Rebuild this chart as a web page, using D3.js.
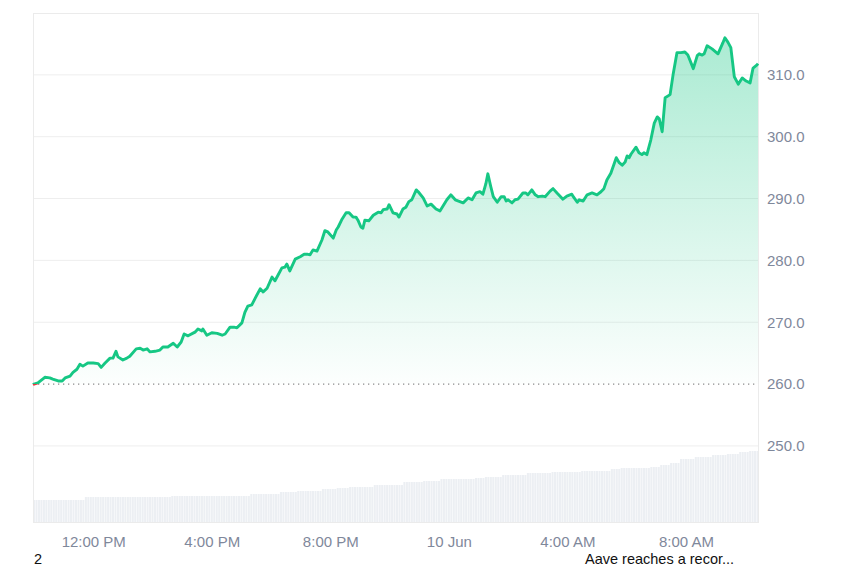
<!DOCTYPE html>
<html>
<head>
<meta charset="utf-8">
<script src="https://cdn.jsdelivr.net/npm/d3@7"></script>
<style>
  html, body { margin: 0; padding: 0; background: #ffffff; }
  svg { display: block; font-family: "Liberation Sans", Arial, Helvetica, sans-serif; }
</style>
</head>
<body>
<svg id="chart" width="850" height="567"></svg>
<script>
// ---- Data ----
// Minutes after 9 Jun 09:58 and the price at that moment
const minutes = [0,2,10,24,34,40,51,59,65,75,81,89,95,101,111,122,132,138,146,156,162,168,172,182,190,196,209,217,223,231,237,247,257,263,273,284,292,300,306,314,328,334,342,344,352,362,373,383,389,399,407,413,423,429,435,443,450,460,466,474,484,490,496,504,510,514,520,531,541,549,555,561,567,575,585,591,597,608,614,618,626,634,640,648,654,658,664,668,672,680,689,699,705,709,717,721,729,737,741,749,755,761,767,776,780,790,798,806,816,824,838,846,855,871,881,889,897,905,911,917,921,927,932,940,948,954,958,962,970,976,982,992,998,1002,1010,1017,1023,1031,1037,1047,1053,1061,1073,1081,1091,1094,1102,1106,1114,1122,1132,1142,1150,1156,1162,1170,1181,1187,1193,1199,1203,1207,1211,1221,1227,1233,1237,1243,1251,1258,1264,1268,1274,1280,1290,1296,1304,1312,1320,1326,1337,1345,1349,1355,1359,1365,1375,1387,1397,1401,1407,1413,1420,1428,1436,1444,1452,1458,1466,1468];
const prices = [259.9,260.0,260.2,261.1,261.0,260.8,260.5,260.5,261.0,261.3,261.9,262.4,263.2,262.9,263.4,263.4,263.3,262.7,263.4,264.2,264.2,265.3,264.4,263.9,264.2,264.5,265.7,265.8,265.5,265.7,265.2,265.3,265.5,266.0,266.0,266.6,266.0,266.8,268.1,267.8,268.4,268.9,268.6,268.9,267.9,268.3,268.2,267.9,268.1,269.2,269.2,269.1,269.9,271.6,272.6,272.8,273.9,275.4,274.9,275.5,277.3,276.7,277.6,278.8,278.9,279.4,278.3,280.2,280.6,281.0,281.0,280.9,281.7,281.5,283.3,284.8,284.6,283.6,284.9,285.4,286.7,287.7,287.7,287.0,287.0,286.5,285.4,285.2,286.5,286.4,287.3,287.8,287.7,288.2,288.3,289.0,287.7,287.5,287.0,288.3,288.6,289.5,289.8,291.4,291.1,290.1,288.8,289.1,288.3,288.0,289.8,290.6,289.8,289.3,290.1,289.8,290.9,291.1,290.7,292.4,294.0,291.9,290.3,289.4,290.3,290.3,289.6,289.8,289.3,289.8,289.9,290.9,290.9,290.6,291.4,290.6,290.3,290.4,290.3,291.2,291.6,290.9,289.9,290.4,290.7,290.3,289.4,289.8,289.6,290.6,290.9,290.6,291.1,291.6,293.0,294.1,296.6,295.8,295.4,295.9,296.9,296.6,297.2,298.3,297.4,297.1,297.4,297.1,299.5,302.2,303.2,302.9,300.8,306.3,306.8,310.0,313.6,313.6,313.7,313.2,311.0,313.1,313.4,313.2,313.4,314.7,314.2,313.4,315.2,316.0,315.3,314.4,309.7,308.5,309.5,309.0,308.7,311.1,311.6,311.8];

// Volume (arbitrary units, read as steps): segment start minute, end minute, value
const volStart = [0,101,277,439,500,535,581,612,636,689,749,790,824,891,911,946,1000,1047,1108,1168,1189,1249,1270,1286,1306,1337,1371,1401,1426,1446];
const volEnd   = [101,277,439,500,535,581,612,636,689,749,790,824,891,911,946,1000,1047,1108,1168,1189,1249,1270,1286,1306,1337,1371,1401,1426,1446,1470];
const volValue = [220,250,260,280,300,310,330,340,350,370,400,410,430,440,450,470,490,500,510,530,540,550,570,590,630,650,670,680,700,710];

const yTicks = [250, 260, 270, 280, 290, 300, 310];
const baselinePrice = 260;
const footLeft = "2";
const footRight = "Aave reaches a recor...";

// ---- Layout ----
const svg = d3.select("#chart");
const pL = 33, pR = 758, pT = 13, pB = 522;
const start = new Date(2025, 5, 9, 9, 58);
const toDate = m => new Date(start.getTime() + m * 60000);

const x = d3.scaleTime().domain([start, toDate(1468)]).range([pL, pR]);
const y = d3.scaleLinear().domain([237.7, 320]).range([pB, pT]);
const yVol = d3.scaleLinear().domain([0, 1000]).range([pB, pB - 100]);

const data = minutes.map((m, i) => ({ t: toDate(m), p: prices[i] }));

const green = "#16c784";
const red = "#ea3943";
const labelColor = "#7f889b";

// gradient
const defs = svg.append("defs");
const grad = defs.append("linearGradient").attr("id", "fillGrad")
  .attr("gradientUnits", "userSpaceOnUse")
  .attr("x1", 0).attr("x2", 0).attr("y1", y(316)).attr("y2", y(baselinePrice));
grad.append("stop").attr("offset", "0%").attr("stop-color", green).attr("stop-opacity", 0.36);
grad.append("stop").attr("offset", "100%").attr("stop-color", green).attr("stop-opacity", 0.01);

defs.append("clipPath").attr("id", "clipAbove").append("rect")
  .attr("x", pL - 5).attr("y", 0).attr("width", pR - pL + 10).attr("height", y(baselinePrice));
defs.append("clipPath").attr("id", "clipBelow").append("rect")
  .attr("x", pL - 5).attr("y", y(baselinePrice)).attr("width", pR - pL + 10).attr("height", 600);

// grid
svg.append("g").selectAll("line").data(yTicks.filter(v => v !== baselinePrice)).join("line")
  .attr("x1", pL).attr("x2", pR)
  .attr("y1", d => y(d)).attr("y2", d => y(d))
  .attr("stroke", "#eeeeee").attr("stroke-width", 1);

// volume bars
const barTimes = d3.range(0, 1468, 5);
const step = x(toDate(5)) - x(toDate(0));
const volAt = m => { const i = volStart.findIndex((s, k) => m >= s && m < volEnd[k]); return volValue[i]; };
svg.append("g").selectAll("rect").data(barTimes).join("rect")
  .attr("x", d => x(toDate(d)))
  .attr("width", step - 0.45)
  .attr("y", d => yVol(volAt(d)))
  .attr("height", d => yVol(0) - yVol(volAt(d)))
  .attr("fill", "#eceff3");

// frame
svg.append("rect").attr("x", pL + 0.5).attr("y", pT + 0.5)
  .attr("width", pR - pL).attr("height", pB - pT)
  .attr("fill", "none").attr("stroke", "#ebebeb").attr("stroke-width", 1);

// area
const area = d3.area().x(d => x(d.t)).y0(y(baselinePrice)).y1(d => y(d.p));
svg.append("path").datum(data).attr("d", area).attr("fill", "url(#fillGrad)").attr("clip-path", "url(#clipAbove)");

// baseline dotted
svg.append("line").attr("x1", pL).attr("x2", pR)
  .attr("y1", y(baselinePrice)).attr("y2", y(baselinePrice))
  .attr("stroke", "#8c8c8c").attr("stroke-width", 1.2).attr("stroke-dasharray", "1.3,3.7");

// line
const line = d3.line().x(d => x(d.t)).y(d => y(d.p));
svg.append("path").datum(data).attr("d", line).attr("fill", "none")
  .attr("stroke", green).attr("stroke-width", 2.9).attr("stroke-linejoin", "round")
  .attr("clip-path", "url(#clipAbove)");
svg.append("path").datum(data).attr("d", line).attr("fill", "none")
  .attr("stroke", red).attr("stroke-width", 2.9).attr("stroke-linejoin", "round")
  .attr("clip-path", "url(#clipBelow)");

// y axis (right)
const yAxis = d3.axisRight(y).tickValues(yTicks).tickFormat(d3.format(".1f")).tickSize(0).tickPadding(0);
const yg = svg.append("g").attr("transform", `translate(${pR + 9},0)`).call(yAxis);
yg.select(".domain").remove();
yg.selectAll("text").attr("fill", labelColor).attr("font-size", 15).attr("font-family", "Liberation Sans, Arial, sans-serif");

// x axis
const fmtTime = d3.timeFormat("%-I:%M %p");
const fmtDay = d3.timeFormat("%-d %b");
const xAxis = d3.axisBottom(x).ticks(d3.timeHour.every(4)).tickSize(0).tickPadding(0)
  .tickFormat(d => (d.getHours() === 0 ? fmtDay(d) : fmtTime(d)));
const xg = svg.append("g").attr("transform", `translate(0,${pB + 14.5})`).call(xAxis);
xg.select(".domain").remove();
xg.selectAll("text").attr("fill", labelColor).attr("font-size", 15).attr("font-family", "Liberation Sans, Arial, sans-serif");

// footer texts
svg.append("text").attr("x", 34).attr("y", 563.8).attr("font-size", 14.5).attr("fill", "#111").text(footLeft);
svg.append("text").attr("x", 585).attr("y", 563.8).attr("font-size", 14.5).attr("fill", "#111").text(footRight);
</script>
</body>
</html>
